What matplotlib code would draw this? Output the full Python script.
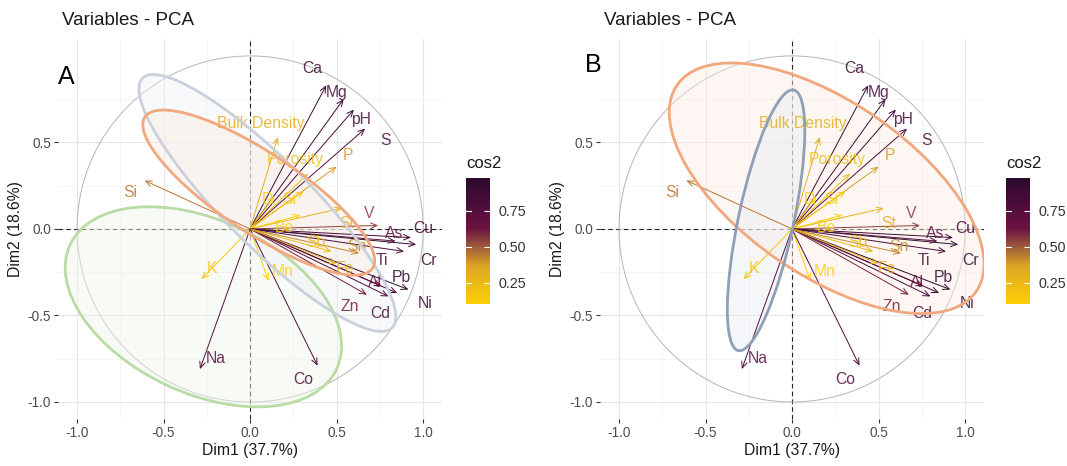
import numpy as np
import matplotlib
matplotlib.use("Agg")
import matplotlib.pyplot as plt
from matplotlib.patches import Ellipse, Circle
from matplotlib.colors import LinearSegmentedColormap, Normalize
from matplotlib.colorbar import ColorbarBase

plt.rcParams['font.family'] = ['Liberation Sans', 'DejaVu Sans']

# variable coordinates on Dim1 / Dim2
variables = ['Ca', 'Mg', 'pH', 'S', 'P', 'Bulk Density', 'Porosity', 'Sr', 'D',
             'St', 'Be', 'V', 'Cu', 'As', 'Cr', 'Ti', 'Pb', 'Ni', 'Al', 'Cd', 'Zn',
             'Fe', 'Sb', 'Sn', 'Mn', 'K', 'Na', 'Co', 'Si']
dim1 = [0.44, 0.54, 0.60, 0.665, 0.50, 0.16, 0.335, 0.31, 0.14,
        0.53, 0.29, 0.74, 0.93, 0.84, 0.96, 0.89, 0.915, 0.85, 0.76, 0.80, 0.675,
        0.50, 0.47, 0.63, 0.106, -0.28, -0.29, 0.39, -0.61]
dim2 = [0.83, 0.75, 0.69, 0.58, 0.36, 0.53, 0.32, 0.22, 0.19,
        0.12, 0.08, 0.02, -0.05, -0.07, -0.09, -0.13, -0.35, -0.37, -0.33, -0.39, -0.38,
        -0.20, -0.13, -0.14, -0.30, -0.29, -0.81, -0.79, 0.28]

# repelled label positions
label_x = [0.36, 0.50, 0.64, 0.78, 0.565, 0.06, 0.26, 0.23, 0.10,
           0.56, 0.20, 0.69, 1.00, 0.83, 1.03, 0.76, 0.876, 1.01, 0.72, 0.75, 0.575,
           0.55, 0.38, 0.62, 0.19, -0.22, -0.20, 0.31, -0.69]
label_y = [0.93, 0.79, 0.63, 0.51, 0.425, 0.61, 0.40, 0.17, 0.17,
           0.03, 0.01, 0.09, 0.00, -0.025, -0.18, -0.18, -0.28, -0.43, -0.31, -0.49, -0.45,
           -0.23, -0.08, -0.10, -0.245, -0.23, -0.75, -0.87, 0.21]

# concentration ellipses: centre x, centre y, semi-axes, angle
ellipses_a = [
    dict(cx=-0.27, cy=-0.45, a=0.85, b=0.50, ang=-25, edge='#B9DBA4', face='#EEF6EA'),
    dict(cx=0.10, cy=0.15, a=1.02, b=0.25, ang=-45, edge='#C9D1DC', face='#F1F3F6'),
    dict(cx=0.05, cy=0.21, a=0.79, b=0.23, ang=-33.6, edge='#F3A77C', face='#FBEDE6'),
]
ellipses_b = [
    dict(cx=0.20, cy=0.235, a=1.05, b=0.50, ang=-34.6, edge='#F3A77C', face='#FBEDE6'),
    dict(cx=-0.15, cy=0.05, a=0.77, b=0.16, ang=78, edge='#8E9FB6', face='#E9ECF1'),
]

cos2 = np.array(dim1) ** 2 + np.array(dim2) ** 2

cmap = LinearSegmentedColormap.from_list('cos2', [
    (0.00, '#FDD005'), (0.30, '#DDA624'), (0.45, '#9E5C3A'),
    (0.60, '#6C1240'), (0.80, '#4B0C3B'), (1.00, '#2A0A2C')])
norm = Normalize(vmin=0.10, vmax=0.98)


def draw_panel(ax, ells, tag, tag_x, tag_y):
    ax.set_xlim(-1.11, 1.11)
    ax.set_ylim(-1.1, 1.1)
    ax.set_aspect('equal')
    ax.set_xticks([-1, -0.5, 0, 0.5, 1])
    ax.set_yticks([-1, -0.5, 0, 0.5])
    ax.set_xticks([-0.75, -0.25, 0.25, 0.75], minor=True)
    ax.set_yticks([-0.75, -0.25, 0.25, 0.75], minor=True)
    ax.set_xticklabels(['-1.0', '-0.5', '0.0', '0.5', '1.0'])
    ax.set_yticklabels(['-1.0', '-0.5', '0.0', '0.5'])
    ax.grid(which='major', color='#E6E6E6', lw=0.8)
    ax.grid(which='minor', color='#F2F2F2', lw=0.5)
    ax.set_axisbelow(True)
    for s in ax.spines.values():
        s.set_visible(False)
    ax.tick_params(which='major', length=3, color='#333333', labelcolor='#4D4D4D',
                   labelsize=9.8, pad=2)
    ax.tick_params(which='minor', length=0)
    ax.axhline(0, color='#222222', ls=(0, (4, 3)), lw=0.8, zorder=1)
    ax.axvline(0, color='#222222', ls=(0, (4, 3)), lw=0.8, zorder=1)
    ax.add_patch(Circle((0, 0), 1, fill=False, ec='#B5B5B5', lw=0.7, zorder=1))

    for name, x, y, lx, ly, c in zip(variables, dim1, dim2, label_x, label_y, cos2):
        col = cmap(norm(c))
        ax.annotate('', xy=(x, y), xytext=(0, 0), zorder=3,
                    arrowprops=dict(arrowstyle='->,head_length=0.45,head_width=0.2',
                                    color=col, lw=0.7, shrinkA=0, shrinkB=0))
        ax.text(lx, ly, name, color=col, fontsize=11.3, ha='center', va='center',
                alpha=0.85, zorder=4)

    for e in ells:
        ax.add_patch(Ellipse((e['cx'], e['cy']), 2 * e['a'], 2 * e['b'], angle=e['ang'],
                             fc=e['face'], ec='none', alpha=0.45, zorder=2))
        ax.add_patch(Ellipse((e['cx'], e['cy']), 2 * e['a'], 2 * e['b'], angle=e['ang'],
                             fc='none', ec=e['edge'], lw=2.0, zorder=5))

    ax.set_xlabel('Dim1 (37.7%)', fontsize=11.3, color='#1A1A1A', labelpad=2)
    ax.set_ylabel('Dim2 (18.6%)', fontsize=11.3, color='#1A1A1A', labelpad=3)
    ax.set_title('Variables - PCA', fontsize=13.5, loc='left', x=0.01, pad=10,
                 color='#1A1A1A')
    ax.text(tag_x, tag_y, tag, transform=ax.transAxes, fontsize=18, color='black',
            va='center')


def draw_colorbar(cax):
    cb = ColorbarBase(cax, cmap=cmap, norm=norm, orientation='vertical')
    cb.set_ticks([0.25, 0.50, 0.75])
    cb.set_ticklabels(['0.25', '0.50', '0.75'])
    cb.outline.set_visible(False)
    cax.tick_params(length=4, width=0.8, color='white', labelsize=10.3,
                    labelcolor='#333333', direction='in', pad=6)
    for t in [0.25, 0.5, 0.75]:
        cax.plot([0, 0.2], [t, t], color='white', lw=0.8, transform=cax.get_yaxis_transform())
    cax.set_title('cos2', fontsize=12, loc='left', pad=7, color='#1A1A1A')


fig = plt.figure(figsize=(10.67, 4.66), dpi=100)
ax_a = fig.add_axes([0.0544, 0.0987, 0.36, 0.82])
ax_b = fig.add_axes([0.5623, 0.0987, 0.36, 0.82])
draw_panel(ax_a, ellipses_a, 'A', 0.0, 0.90)
draw_panel(ax_b, ellipses_b, 'B', -0.04, 0.93)

cax_a = fig.add_axes([466 / 1067, 1 - 304 / 466, 24 / 1067, 126 / 466])
cax_b = fig.add_axes([1006 / 1067, 1 - 304 / 466, 24 / 1067, 126 / 466])
draw_colorbar(cax_a)
draw_colorbar(cax_b)

fig.savefig('out.png', dpi=100)
